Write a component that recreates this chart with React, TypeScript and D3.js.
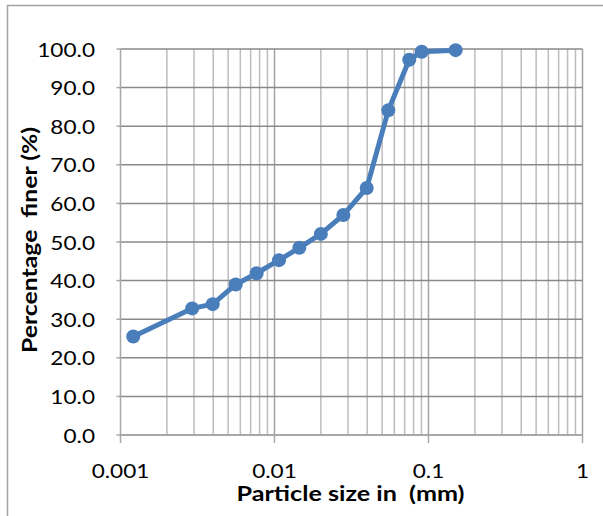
import React from 'react';
import * as d3 from 'd3';

// particle size (mm) and percentage finer
const sizes = [0.00121, 0.00292, 0.00397, 0.0056, 0.00766, 0.0107, 0.0145, 0.02, 0.028, 0.0397, 0.0548, 0.075, 0.0903, 0.15];
const finer = [25.5, 32.8, 33.9, 39.0, 41.9, 45.3, 48.5, 52.1, 57.0, 64.0, 84.1, 97.2, 99.3, 99.7];

const xTicks = [0.001, 0.01, 0.1, 1];
const xTickLabels = ['0.001', '0.01', '0.1', '1'];
const yTicks = [0, 10, 20, 30, 40, 50, 60, 70, 80, 90, 100];

const xTitle = 'Particle size in  (mm)';
const yTitle = 'Percentage  finer (%)';

const W = 603;
const H = 516;
const margin = { top: 49, right: 20.5, bottom: 81, left: 120.5 };
const FONT = 'Lato, "Open Sans", sans-serif';

export default function App() {
  const x = d3.scaleLog().domain([0.001, 1]).range([margin.left, W - margin.right]);
  const y = d3.scaleLinear().domain([0, 100]).range([H - margin.bottom, margin.top]);

  // minor vertical gridlines 2..9 in each decade
  const minor: number[] = [];
  for (let e = -3; e < 0; e++) {
    for (let k = 2; k <= 9; k++) minor.push(k * Math.pow(10, e));
  }

  const pts = sizes.map((s, i) => [x(s), y(finer[i])] as [number, number]);
  const line = d3.line()(pts);
  const x0 = x(0.001);
  const x1 = x(1);
  const yBase = y(0);

  return (
    <div style={{ position: 'absolute', left: 0, top: 0 }}>
      <svg width={W} height={H} style={{ display: 'block', background: '#fff' }}>
        <rect x={7.5} y={5.5} width={800} height={800} fill="none" stroke="#a3a3a3" strokeWidth={1.5} />

        {minor.map(v => (
          <line key={'m' + v} x1={x(v)} x2={x(v)} y1={y(100)} y2={yBase} stroke="#bdbdbd" strokeWidth={1.5} />
        ))}
        {xTicks.slice(1).map(v => (
          <line key={'M' + v} x1={x(v)} x2={x(v)} y1={y(100)} y2={yBase} stroke="#a3a3a3" strokeWidth={1.5} />
        ))}
        {yTicks.map(v => (
          <line key={'h' + v} x1={x0} x2={x1} y1={y(v)} y2={y(v)} stroke="#8a8a8a" strokeWidth={1.5} />
        ))}

        {/* axes */}
        <line x1={x0} x2={x0} y1={y(100)} y2={yBase} stroke="#a8a8a8" strokeWidth={1.5} />
        <line x1={x0} x2={x1} y1={yBase} y2={yBase} stroke="#a8a8a8" strokeWidth={1.5} />
        {yTicks.map(v => (
          <line key={'yt' + v} x1={x0 - 4} x2={x0} y1={y(v)} y2={y(v)} stroke="#a8a8a8" strokeWidth={1.5} />
        ))}
        {xTicks.map(v => (
          <line key={'xt' + v} x1={x(v)} x2={x(v)} y1={yBase} y2={yBase + 8} stroke="#a8a8a8" strokeWidth={1.5} />
        ))}

        {yTicks.map(v => (
          <text key={'yl' + v} transform={`translate(95,${y(v) + 7.5}) scale(1.13,1)`} textAnchor="end"
            fontFamily={FONT} fontSize={20} fill="#000">{v.toFixed(1)}</text>
        ))}
        {xTicks.map((v, i) => (
          <text key={'xl' + v} transform={`translate(${x(v)},${yBase + 43}) scale(1.13,1)`} textAnchor="middle"
            fontFamily={FONT} fontSize={20} fill="#000">{xTickLabels[i]}</text>
        ))}

        <text x={(x0 + x1) / 2 - 1} y={501} textAnchor="middle" fontFamily={FONT} fontSize={20} fontWeight="bold"
          textLength={228} lengthAdjust="spacingAndGlyphs" style={{ whiteSpace: 'pre' }}>{xTitle}</text>
        <text transform={`translate(37,${(y(0) + y(100)) / 2 - 2}) rotate(-90)`} textAnchor="middle" fontFamily={FONT}
          fontSize={20} fontWeight="bold" textLength={226} lengthAdjust="spacingAndGlyphs"
          style={{ whiteSpace: 'pre' }}>{yTitle}</text>

        <path d={line || ''} fill="none" stroke="#4a7ebb" strokeWidth={5} strokeLinejoin="round" />
        {pts.map((p, i) => (
          <circle key={'p' + i} cx={p[0]} cy={p[1]} r={7} fill="#4a7ebb" />
        ))}
      </svg>
    </div>
  );
}
